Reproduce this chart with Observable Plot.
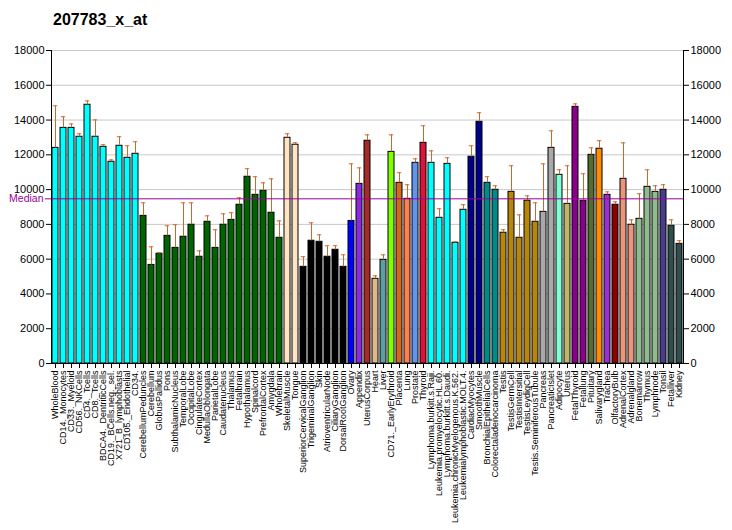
<!DOCTYPE html>
<html>
<head>
<meta charset="utf-8">
<script src="https://cdn.jsdelivr.net/npm/d3@7"></script>
<script src="https://cdn.jsdelivr.net/npm/@observablehq/plot@0.6"></script>
<style>
  html, body { margin: 0; padding: 0; background: #fff; }
  #wrap { position: relative; width: 732px; height: 530px; font-family: "Liberation Sans", Arial, sans-serif; }
  #title { position: absolute; left: 53px; top: 12px; font-size: 16px; line-height: 16px; font-weight: bold; color: #000; }
</style>
</head>
<body>
<div id="wrap"><div id="title">207783_x_at</div></div>
<script>
const titleText = "207783_x_at";
const names = [
  "WholeBlood","CD14._Monocytes","CD33._Myeloid","CD56._NKCells","CD4._Tcells","CD8._Tcells",
  "BDCA4._DentriticCells","CD19._BCells.neg._sel.","X721_B_lymphoblasts","CD105._Endothelial","CD34.",
  "CerebellumPeduncles","Cerebellum","GlobusPallidus","Pons","SubthalamicNucleus","TemporalLobe",
  "OccipitalLobe","CingulateCortex","MedullaOblongata","ParietalLobe","Caudatenucleus","Thalamus",
  "Fetalbrain","Hypothalamus","Spinalcord","PrefrontalCortex","Amygdala","Wholebrain",
  "SkeletalMuscle","Tongue",
  "SuperiorCervicalGanglion","TrigeminalGanglion","Skin","AtrioventricularNode","CiliaryGanglion","DorsalRootGanglion",
  "Ovary","Appendix","UterusCorpus","Heart","Liver","CD71._EarlyErythroid","Placenta","Lung","Prostate","Thyroid",
  "Lymphoma.burkitt.s.Raji.","Leukemia.promyelocytic.HL.60.","Lymphoma.burkitt.s.Daudi.",
  "Leukemia.chronicMyelogenous.K.562.","Leukemialymphoblastic.MOLT.4.",
  "CardiacMyocytes","SmoothMuscle","BronchialEpithelialCells","Colorectaladenocarcinoma",
  "Testis","TestisGermCell","TestisIntersitial","TestisLeydigCell","Testis.SeminiferousTubule",
  "Pancreas","PancreaticIslet","Adipocyte","Uterus","FetalThyroid","Fetallung","Pituitary",
  "Salivarygland","Trachea","OlfactoryBulb","AdrenalCortex","Adrenalgland","Bonemarrow",
  "Thymus","Lymphnode","Tonsil","Fetalliver","Kidney"
];
const values = [
  12400,13550,13550,13040,14880,13040,12460,11600,12520,11830,12060,
  8490,5670,6310,7340,6650,7290,7980,6140,8150,6650,7980,8260,
  9130,10740,9700,9930,8670,7230,
  12980,12580,
  5560,7060,7000,6140,6540,5560,
  8200,10330,12810,4870,5960,12170,10390,9470,11540,12690,
  11540,8380,11480,6940,8840,
  11890,13900,10390,9990,
  7520,9870,7230,9360,8150,
  8720,12400,10850,9180,14760,9360,12000,
  12350,9700,9130,10620,7980,8320,
  10160,9870,9990,7920,6880
];
const errTops = [
  14820,14190,13780,13210,15100,14010,12580,11710,13040,12520,12750,
  9240,6710,6370,7920,7980,9240,9240,6480,8490,7690,8610,8670,
  9530,11200,10740,10390,10620,8200,
  13210,12690,
  6140,8090,7400,6770,6770,6250,
  11480,11250,13150,5040,6250,13150,10970,10280,11770,13670,
  12230,8900,11830,7000,9130,
  12520,14420,10740,10220,
  7690,11370,8550,9640,9240,
  11480,13380,11140,11370,14930,10910,12400,
  12810,9870,9300,12690,8260,9760,
  11140,10220,10280,8260,7060
];
const groups = [
  0,0,0,0,0,0,0,0,0,0,0,
  1,1,1,1,1,1,1,1,1,1,1,1,1,1,1,1,1,1,
  2,2,
  3,3,3,3,3,3,
  4,5,6,7,8,9,10,11,12,13,
  0,0,0,0,0,
  14,14,15,15,
  16,16,16,16,16,
  17,17,18,19,20,20,21,
  22,23,24,25,25,26,
  26,26,27,28,28
];
const palette = [
  "#00FFFF","#006400","#FFE4C4","#000000","#0000FF","#8A2BE2","#A52A2A","#DEB887",
  "#5F9EA0","#7FFF00","#D2691E","#FF7F50","#6495ED","#DC143C","#00008B","#008B8B",
  "#B8860B","#A9A9A9","#7FFFD4","#BDB76B","#8B008B","#556B2F","#FF8C00","#9932CC",
  "#8B0000","#E9967A","#8FBC8F","#483D8B","#2F4F4F"
];
const median = 9470;
const yTicks = [0,2000,4000,6000,8000,10000,12000,14000,16000,18000];

const data = names.map((n, i) => ({name: n, value: values[i], err: errTops[i], group: groups[i]}));
const purple = "#990099";
const errColor = "#C8692E";

const chart = Plot.plot({
  width: 732,
  height: 530,
  marginTop: 50,
  marginBottom: 167,
  marginLeft: 51,
  marginRight: 49,
  style: {fontFamily: '"Liberation Sans", Arial, sans-serif', background: "white", color: "black"},
  x: {type: "band", domain: names, paddingInner: 0.2, paddingOuter: 0.1, label: null},
  y: {domain: [0, 18000], label: null},
  color: {type: "ordinal", domain: palette.map((_, i) => i), range: palette},
  marks: [
    Plot.ruleY(yTicks.slice(1), {stroke: "#c8c8c8", strokeWidth: 1}),
    Plot.barY(data, {x: "name", y: "value", fill: "group", stroke: "black", strokeWidth: 1}),
    Plot.ruleX(data, {x: "name", y1: "value", y2: "err", stroke: errColor, strokeWidth: 1}),
    Plot.tickY(data, {x: "name", y: "err", stroke: errColor, strokeWidth: 1, insetLeft: 0.8, insetRight: 0.8}),
    Plot.ruleY([median], {stroke: purple, strokeWidth: 1, insetLeft: -6}),
    Plot.ruleY([0], {stroke: "black", strokeWidth: 1}),
    Plot.frame({anchor: "left", stroke: "black"}),
    Plot.frame({anchor: "right", stroke: "black"}),
    Plot.axisY({anchor: "left", ticks: yTicks, tickSize: 5, tickPadding: 2, fontSize: 11, tickFormat: d => String(d), label: null}),
    Plot.axisY({anchor: "right", ticks: yTicks, tickSize: 5, tickPadding: 2, fontSize: 11, tickFormat: d => String(d), label: null}),
    Plot.axisX({anchor: "bottom", tickRotate: -90, tickSize: 5, tickPadding: 2, fontSize: 9, label: null}),
    Plot.text(["Median"], {y: [median], frameAnchor: "left", textAnchor: "end", dx: -8, fill: purple, fontSize: 10.5})
  ]
});
chart.style.position = "absolute";
chart.style.left = "0px";
chart.style.top = "0px";
const wrap = document.getElementById("wrap");
wrap.insertBefore(chart, wrap.firstChild);
</script>
</body>
</html>
